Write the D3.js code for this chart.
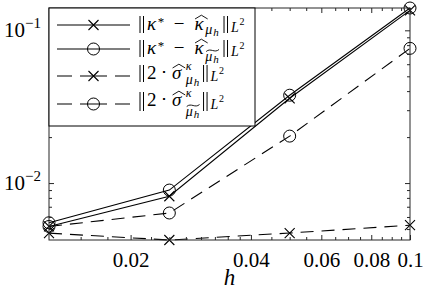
<!DOCTYPE html>
<html>
<head>
<meta charset="utf-8">
<script src="https://cdn.jsdelivr.net/npm/d3@7"></script>
<style>
  body { margin: 0; background: #fff; }
  svg { display: block; }
  text { font-family: "Liberation Serif" !important; }
</style>
</head>
<body>
<script>
// mesh sizes and errors
const hValues = [0.0125, 0.025, 0.05, 0.1];
const errKappaHat = [0.0052, 0.0082, 0.0359, 0.135];
const errKappaTilde = [0.0055, 0.0090, 0.0376, 0.140];
const sigmaHat = [0.0047, 0.00424, 0.00471, 0.0053];
const sigmaTilde = [0.0052, 0.00637, 0.0203, 0.0762];

const xTicks = [0.02, 0.04, 0.06, 0.08, 0.1];
const xTickLabels = ["0.02", "0.04", "0.06", "0.08", "0.1"];
const xMinorTicks = [0.015, 0.0175, 0.0225, 0.025, 0.0275, 0.03, 0.0325, 0.035, 0.0375,
  0.045, 0.05, 0.055, 0.065, 0.07, 0.075, 0.085, 0.09, 0.095];
const yTicks = [0.01, 0.1];
const yTickExponents = ["\u22122", "\u22121"];
const yMinorTicks = [0.005, 0.006, 0.007, 0.008, 0.009,
  0.02, 0.03, 0.04, 0.05, 0.06, 0.07, 0.08, 0.09];

const width = 423, height = 295;
const margin = {top: 8, right: 13, bottom: 55, left: 49};
const fontName = "Liberation Serif";
const axisColor = "#262626";

const series = [
  {values: errKappaHat, dash: null, marker: "cross"},
  {values: errKappaTilde, dash: null, marker: "circle"},
  {values: sigmaHat, dash: "13,8", marker: "cross"},
  {values: sigmaTilde, dash: "13,8", marker: "circle"}
];

const x = d3.scaleLog()
  .domain(d3.extent(hValues))
  .range([margin.left, width - margin.right]);

const y = d3.scaleLog()
  .domain(d3.extent(series.flatMap(s => s.values)))
  .range([height - margin.bottom, margin.top]);

const svg = d3.select("body").append("svg")
  .attr("width", width)
  .attr("height", height)
  .attr("font-family", fontName);

function serifText(sel) {
  return sel.attr("font-family", fontName).style("font-family", `"${fontName}"`);
}

// data lines
const line = d3.line()
  .x((d, i) => x(hValues[i]))
  .y(d => y(d));

function drawMarker(sel, type) {
  if (type === "circle") {
    sel.append("circle").attr("r", 6)
      .attr("fill", "none").attr("stroke", "#000").attr("stroke-width", 1);
  } else {
    sel.append("path").attr("d", "M-5,-5L5,5M-5,5L5,-5")
      .attr("fill", "none").attr("stroke", "#000").attr("stroke-width", 1.1);
  }
}

const plot = svg.append("g");
series.forEach(s => {
  plot.append("path")
    .attr("d", line(s.values))
    .attr("fill", "none")
    .attr("stroke", "#000")
    .attr("stroke-width", 1.1)
    .attr("stroke-dasharray", s.dash);
  s.values.forEach((v, i) => {
    const g = plot.append("g").attr("transform", `translate(${x(hValues[i])},${y(v)})`);
    drawMarker(g, s.marker);
  });
});

// axes box with inward ticks
const x0 = margin.left, x1 = width - margin.right;
const y0 = height - margin.bottom, y1 = margin.top;

function styleAxis(g) {
  g.attr("font-family", fontName);
  g.select(".domain").remove();
  g.selectAll(".tick line").attr("stroke", axisColor);
}

svg.append("g").attr("transform", `translate(0,${y0})`)
  .call(d3.axisBottom(x).tickValues(xTicks).tickSize(-5).tickPadding(12)
    .tickFormat((d, i) => xTickLabels[i]))
  .call(styleAxis)
  .call(g => serifText(g.selectAll("text").attr("font-size", 21).attr("fill", "#000")));
svg.append("g").attr("transform", `translate(0,${y0})`)
  .call(d3.axisBottom(x).tickValues(xMinorTicks).tickSize(-3).tickFormat(""))
  .call(styleAxis);
svg.append("g").attr("transform", `translate(0,${y1})`)
  .call(d3.axisTop(x).tickValues(xTicks).tickSize(-5).tickFormat(""))
  .call(styleAxis);
svg.append("g").attr("transform", `translate(0,${y1})`)
  .call(d3.axisTop(x).tickValues(xMinorTicks).tickSize(-3).tickFormat(""))
  .call(styleAxis);

svg.append("g").attr("transform", `translate(${x0},0)`)
  .call(d3.axisLeft(y).tickValues(yTicks).tickSize(-5).tickFormat(""))
  .call(styleAxis);
svg.append("g").attr("transform", `translate(${x0},0)`)
  .call(d3.axisLeft(y).tickValues(yMinorTicks).tickSize(-3).tickFormat(""))
  .call(styleAxis);
svg.append("g").attr("transform", `translate(${x1},0)`)
  .call(d3.axisRight(y).tickValues(yTicks).tickSize(-5).tickFormat(""))
  .call(styleAxis);
svg.append("g").attr("transform", `translate(${x1},0)`)
  .call(d3.axisRight(y).tickValues(yMinorTicks).tickSize(-3).tickFormat(""))
  .call(styleAxis);

// y tick labels as 10^k
yTicks.forEach((t, i) => {
  const txt = serifText(svg.append("text"))
    .attr("x", x0 - 8)
    .attr("y", y(t) + 7)
    .attr("text-anchor", "end")
    .attr("font-size", 21);
  txt.append("tspan").text("10");
  txt.append("tspan").attr("dy", -9).attr("font-size", 15).text(yTickExponents[i]);
});

svg.append("rect")
  .attr("x", x0).attr("y", y1)
  .attr("width", x1 - x0).attr("height", y0 - y1)
  .attr("fill", "none").attr("stroke", axisColor).attr("stroke-width", 1);

serifText(svg.append("text"))
  .attr("x", (x0 + x1) / 2)
  .attr("y", 285)
  .attr("text-anchor", "middle")
  .attr("font-size", 23)
  .attr("font-style", "italic")
  .text("h");

// legend
const legend = svg.append("g");
legend.append("rect")
  .attr("x", x0).attr("y", y1)
  .attr("width", 206).attr("height", 118)
  .attr("fill", "#fff").attr("stroke", "#000").attr("stroke-width", 1);

// rough advance widths (in em) so the layout needs no measuring
const advance = {"\u03ba": 0.56, "\u03bc": 0.58, "\u03c3": 0.56, "h": 0.52, "L": 0.6, "2": 0.5,
  "*": 0.5, "\u2002": 0.5, "\u2212": 0.6, "\u2005": 0.25, "\u22c5": 0.32};
const textWidth = (t, fs) => Array.from(t).reduce((a, c) => a + (advance[c] || 0.5), 0) * fs;

// lays out a math label piece by piece
function drawMath(g, xs, yb, parts) {
  let cx = xs, markX = xs, maxX = xs;
  let tl = null;
  parts.forEach(p => {
    if (p.join) cx = maxX;
    if (p.mark) markX = cx;
    if (p.back) cx = markX;
    if (p.norm) {
      // double bar delimiter
      const top = yb - (p.h || 14), bot = yb + (p.d || 3);
      g.append("path")
        .attr("d", `M${cx + 2},${top}V${bot}M${cx + 5.5},${top}V${bot}`)
        .attr("stroke", "#000").attr("stroke-width", 1);
      cx += 9;
      maxX = Math.max(maxX, cx);
      return;
    }
    const fs = p.fs || 19;
    serifText(g.append("text"))
      .attr("x", cx).attr("y", yb + (p.dy || 0))
      .attr("font-size", fs)
      .attr("font-style", p.it ? "italic" : "normal")
      .text(p.t);
    const w = textWidth(p.t, fs);
    if (p.hat) {
      g.append("path")
        .attr("d", `M${cx + 0.5},${yb - fs * 0.58}L${cx + w / 2 + 1.5},${yb - fs * 0.78}L${cx + w + 2.5},${yb - fs * 0.58}`)
        .attr("fill", "none").attr("stroke", "#000").attr("stroke-width", 0.9);
    }
    if (p.tl) {
      const top = yb + (p.dy || 0) - fs * 0.75;
      tl = tl ? [tl[0], cx + w, Math.min(tl[2], top)] : [cx + 1, cx + w, top];
    }
    cx += w + (p.sp || 0);
    maxX = Math.max(maxX, cx);
  });
  if (tl) {
    const [a, b, ty] = tl, w = b - a;
    g.append("path")
      .attr("d", `M${a},${ty + 1}C${a + w * 0.35},${ty - 3} ${a + w * 0.65},${ty + 3} ${b},${ty - 1}`)
      .attr("fill", "none").attr("stroke", "#000").attr("stroke-width", 0.9);
  }
}

const legendLabels = [
  [
    {norm: true}, {t: "\u03ba", it: true}, {t: "*", fs: 13, dy: -4},
    {t: "\u2002\u2212\u2002"}, {t: "\u03ba", it: true, hat: true},
    {t: "\u03bc", it: true, fs: 14, dy: 4}, {t: "h", it: true, fs: 11, dy: 6, sp: 3},
    {norm: true}, {t: "L", it: true, fs: 14, dy: 2}, {t: "2", fs: 10, dy: -5}
  ],
  [
    {norm: true}, {t: "\u03ba", it: true}, {t: "*", fs: 13, dy: -4},
    {t: "\u2002\u2212\u2002"}, {t: "\u03ba", it: true, hat: true},
    {t: "\u03bc", it: true, fs: 14, dy: 7, tl: true}, {t: "h", it: true, fs: 11, dy: 9, sp: 3, tl: true},
    {norm: true}, {t: "L", it: true, fs: 14, dy: 2}, {t: "2", fs: 10, dy: -5}
  ],
  [
    {norm: true}, {t: "2"}, {t: "\u2005\u22c5\u2005"}, {t: "\u03c3", it: true, hat: true, sp: 3},
    {t: "\u03ba", it: true, fs: 12, dy: -9, mark: true},
    {t: "\u03bc", it: true, fs: 14, dy: 5, back: true}, {t: "h", it: true, fs: 11, dy: 7, sp: 2},
    {norm: true, join: true}, {t: "L", it: true, fs: 14, dy: 2}, {t: "2", fs: 10, dy: -5}
  ],
  [
    {norm: true, d: 5}, {t: "2"}, {t: "\u2005\u22c5\u2005"}, {t: "\u03c3", it: true, hat: true, sp: 3},
    {t: "\u03ba", it: true, fs: 12, dy: -9, mark: true},
    {t: "\u03bc", it: true, fs: 14, dy: 10, back: true, tl: true}, {t: "h", it: true, fs: 11, dy: 12, sp: 2, tl: true},
    {norm: true, join: true, d: 5}, {t: "L", it: true, fs: 14, dy: 3}, {t: "2", fs: 10, dy: -4}
  ]
];
const legendLineY = [25, 49, 76, 104];
const legendBaseline = [30, 54, 79, 106];

series.forEach((s, i) => {
  const ly = legendLineY[i];
  legend.append("path")
    .attr("d", `M57,${ly}H130`)
    .attr("stroke", "#000").attr("stroke-width", 1.1)
    .attr("stroke-dasharray", s.dash ? "15,8,27,8,15" : null);
  drawMarker(legend.append("g").attr("transform", `translate(93.5,${ly})`), s.marker);
  drawMath(legend.append("g"), 138, legendBaseline[i], legendLabels[i]);
});
</script>
</body>
</html>
